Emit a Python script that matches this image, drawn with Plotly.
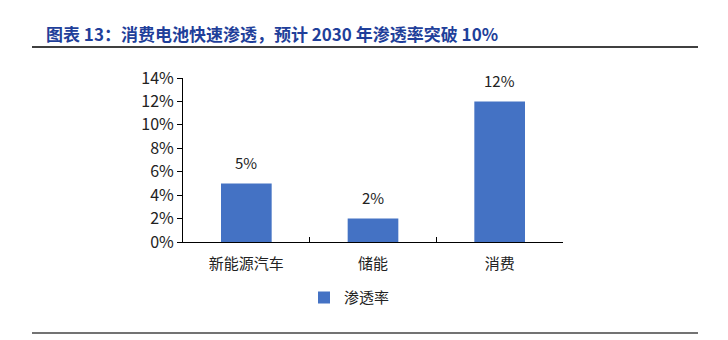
import plotly.graph_objects as go

categories = ["新能源汽车", "储能", "消费"]
values = [5, 2, 12]
series_name = "渗透率"
title_text = "图表 13：消费电池快速渗透，预计 2030 年渗透率突破 10%"

font_cjk = "Noto Sans CJK SC, Noto Sans, sans-serif"

fig = go.Figure()
fig.add_trace(go.Bar(
    x=categories, y=values, name=series_name,
    marker=dict(color="#4472C4", line=dict(width=0)),
    width=0.4,
    cliponaxis=False,
))

for c, v in zip(categories, values):
    fig.add_annotation(x=c, y=v, text=f"{v}%", showarrow=False, yshift=21,
                       yanchor="middle",
                       font=dict(size=15, color="#222222", family=font_cjk))

fig.update_layout(
    width=728, height=340,
    margin=dict(l=183, r=165, t=78, b=98),
    paper_bgcolor="white", plot_bgcolor="white",
    showlegend=True,
    legend=dict(orientation="h", x=(304 - 183) / 380, xanchor="left", y=-0.34, yanchor="middle",
                font=dict(size=15, color="#222222", family=font_cjk),
                itemwidth=30),
    font=dict(family=font_cjk, color="#222222"),
    xaxis=dict(showline=True, linecolor="#000000", linewidth=1,
               ticks="inside", tickson="boundaries", ticklen=5, tickcolor="#000000",
               tickfont=dict(size=15, color="#222222", family=font_cjk),
               ticklabelstandoff=8,
               showgrid=False),
    yaxis=dict(range=[0, 14], dtick=2, showline=True, linecolor="#000000", linewidth=1,
               ticks="outside", ticklen=5, tickcolor="#000000", ticksuffix="%",
               tickfont=dict(size=16, color="#222222", family=font_cjk),
               showgrid=False, zeroline=False),
    bargap=0.6,
)

fig.add_annotation(text=f"<b>{title_text}</b>", xref="paper", yref="paper",
                   x=(44 - 183) / 380, y=(340 - 98 - 33) / 164, xanchor="left", yanchor="middle",
                   showarrow=False, font=dict(size=17, color="#1F3F9A", family=font_cjk))

fig.add_shape(type="line", xref="paper", yref="paper",
              x0=(32 - 183) / 380, x1=(698 - 183) / 380,
              y0=(340 - 98 - 47) / 164, y1=(340 - 98 - 47) / 164,
              line=dict(color="#000000", width=1.5))
fig.add_shape(type="line", xref="paper", yref="paper",
              x0=(32 - 183) / 380, x1=(698 - 183) / 380,
              y0=(340 - 98 - 333) / 164, y1=(340 - 98 - 333) / 164,
              line=dict(color="#444444", width=1.5))

fig.write_html("out.html")
